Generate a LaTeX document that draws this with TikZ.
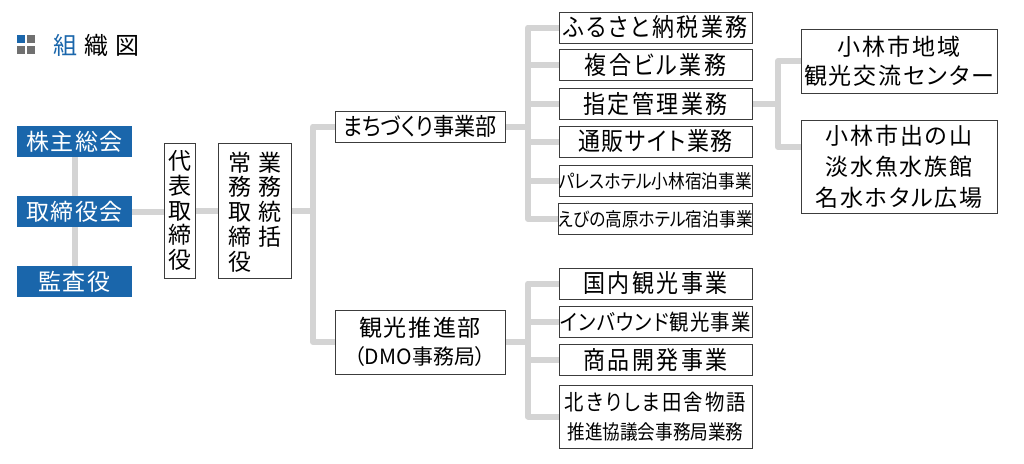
\documentclass[tikz,border=0pt]{standalone}
\usepackage{fontspec}
\newfontfamily\jp[RawFeature=+palt]{Noto Sans CJK JP}
\newfontfamily\jpc[RawFeature=+palt, FakeStretch=0.88]{Noto Sans CJK JP}
\usetikzlibrary{backgrounds}
\definecolor{tblue}{HTML}{1A66AB}
\definecolor{lgray}{HTML}{D4D4D4}
\definecolor{bdr}{HTML}{3C3C3C}
\definecolor{igray}{HTML}{707070}
\newcommand\fsz[2]{\fontsize{#1}{#2}\selectfont}
\newcommand\lsp[1]{\addfontfeatures{LetterSpace=#1}}
\tikzset{
  bx/.style={draw=bdr, line width=1pt, fill=white, inner sep=0pt, text=black, align=center},
  blu/.style={fill=tblue, text=white, inner sep=0pt, minimum width=115pt, minimum height=31pt, font=\jp\fsz{23}{25}\lsp{6}},
  ub/.style={bx, minimum width=193pt, minimum height=31pt},
  big/.style={font=\jpc\fsz{25}{27}\lsp{10}},
  rb/.style={bx, minimum width=196pt},
  conn/.style={draw=lgray, line width=6pt, line join=round},
}
\begin{document}
\begin{tikzpicture}[x=1pt,y=-1pt]
\useasboundingbox (0,0) rectangle (1024,463);
% title
\fill[tblue] (17,35) rectangle (25,43);
\fill[igray] (27,35) rectangle (35,43);
\fill[igray] (17,46) rectangle (25,54);
\fill[igray] (27,46) rectangle (35,54);
\node[anchor=west, inner sep=0pt, font=\jp\fsz{24}{24}] (title) at (53,45) {\textcolor{tblue}{組}\hspace{7pt}織\hspace{7pt}図};
% left
\node[blu] (kabu) at (74.5,141.5) {株主総会};
\node[blu] (tori) at (74.5,211.5) {取締役会};
\node[blu] (kansa) at (74.5,281.5) {監査役};
\node[bx, minimum width=31pt, minimum height=135pt, font=\jp\fsz{23}{24.75}] (daihyo) at (179.5,210.5) {代\\表\\取\\締\\役};
\node[bx, minimum width=73pt, minimum height=135pt] (jomu) at (254.5,210.5) {};
\node[anchor=north, inner sep=0pt, align=center, font=\jp\fsz{23}{24.75}] (jomuL) at (240,151.5) {常\\務\\取\\締\\役};
\node[anchor=north, inner sep=0pt, align=center, font=\jp\fsz{23}{24.75}] (jomuR) at (270,151.5) {業\\務\\統\\括};
% departments
\node[bx, minimum width=170pt, minimum height=31pt, font=\jpc\fsz{24}{26}] (machi) at (420,126.5) {まちづくり事業部};
\node[bx, minimum width=170pt, minimum height=64pt, font=\jp\fsz{23}{28}] (kanko) at (420,342) {{\lsp{7}観光推進部}\\{\fsz{21}{28}（DMO事務局）}};
% upper group
\node[ub, big] (furu) at (655.5,27.5) {ふるさと納税業務};
\node[ub, big] (fuku) at (655.5,64.5) {複合ビル業務};
\node[ub, big] (shitei) at (655.5,103.5) {指定管理業務};
\node[ub, font=\jpc\fsz{25}{27}\lsp{6}] (tsuhan) at (655.5,141.5) {通販サイト業務};
\node[ub, font=\jpc\fsz{19}{21}] (pares) at (655.5,181) {パレスホテル小林宿泊事業};
\node[ub, font=\jpc\fsz{19}{21}] (ebino) at (655.5,219) {えびの高原ホテル宿泊事業};
% lower group
\node[ub, big] (kokunai) at (655.5,283.5) {国内観光事業};
\node[ub, font=\jpc\fsz{22}{24}\lsp{5}] (inbound) at (655.5,322) {インバウンド観光事業};
\node[ub, big] (shohin) at (655.5,360) {商品開発事業};
\node[ub, minimum height=63pt, font=\jpc\fsz{22}{29}] (kita) at (655.5,416.5) {{\lsp{10}北きりしま田舎物語}\\{\fsz{20}{29}推進協議会事務局業務}};
% right group
\node[rb, minimum height=64pt, font=\jp\fsz{23}{29}\lsp{8}] (chiiki) at (899,61) {小林市地域\\観光交流センター};
\node[rb, minimum height=93pt, font=\jp\fsz{23}{31}\lsp{8}] (suizoku) at (899,166.5) {小林市出の山\\淡水魚水族館\\名水ホタル広場};
% connectors
\coordinate (v1) at (313,211);
\coordinate (s1) at (528,0);
\coordinate (s3) at (778,147);
\begin{scope}[on background layer]
\draw[conn] (kabu.south) -- (tori.north);
\draw[conn] (tori.south) -- (kansa.north);
\draw[conn] (tori.east) -- (tori.east -| daihyo.west);
\draw[conn] (daihyo.east) -- (daihyo.east -| jomu.west);
\draw[conn] (jomu.east) -- (jomu.east -| v1);
\draw[conn] (machi.west) -| (v1) |- (kanko.west);
\draw[conn] (furu.west) -- (furu.west -| s1) -- (ebino.west -| s1) -- (ebino.west);
\foreach \n in {fuku,shitei,tsuhan,pares} \draw[conn] (\n.west) -- (\n.west -| s1);
\draw[conn] (machi.east) -- (machi.east -| s1);
\draw[conn] (kokunai.west) -- (kokunai.west -| s1) -- (kita.west -| s1) -- (kita.west);
\foreach \n in {inbound,shohin} \draw[conn] (\n.west) -- (\n.west -| s1);
\draw[conn] (kanko.east) -- (kanko.east -| s1);
\draw[conn] (chiiki.west) -- (chiiki.west -| s3) -- (s3) -- (s3 -| suizoku.west);
\draw[conn] (shitei.east) -- (shitei.east -| s3);
\end{scope}
\end{tikzpicture}
\end{document}
